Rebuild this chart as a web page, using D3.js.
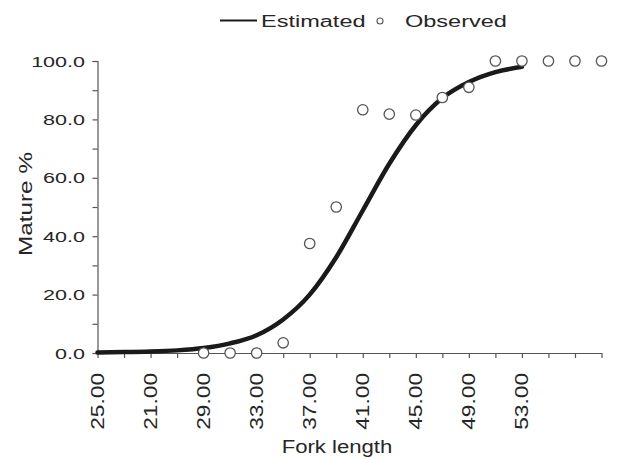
<!DOCTYPE html>
<html>
<head>
<meta charset="utf-8">
<script src="https://cdn.jsdelivr.net/npm/d3@7"></script>
<style>
  html, body { margin: 0; padding: 0; background: #fff; }
  svg { display: block; }
  text { font-family: "Liberation Sans", Arial, sans-serif; fill: #262626; }
</style>
</head>
<body>
<div id="chart"></div>
<script>
// estimated maturity ogive, every 2 cm
const estLength = [21, 23, 25, 27, 29, 31, 33, 35, 37, 39, 41, 43, 45, 47, 49, 51, 53]
const estMature = [0.2, 0.3, 0.5, 0.9, 1.7, 3.3, 6.1, 11.5, 20.0, 32.8, 48.8, 64.8, 78.0, 87.3, 92.8, 96.2, 98.0]

// observed proportion mature
const obsLength = [29, 31, 33, 35, 37, 39, 41, 43, 45, 47, 49, 51, 53, 55, 57, 59]
const obsMature = [0, 0, 0, 3.5, 37.5, 50.0, 83.3, 81.8, 81.5, 87.5, 91.0, 100, 100, 100, 100, 100]

// x tick labels exactly as printed (first two are swapped in the original)
const xTickValues = [21, 25, 29, 33, 37, 41, 45, 49, 53]
const xTickLabels = ["25.00", "21.00", "29.00", "33.00", "37.00", "41.00", "45.00", "49.00", "53.00"]
const yTickValues = [0, 20, 40, 60, 80, 100]

const width = 623
const height = 458
const marginLeft = 97.5     // y axis position
const marginRight = 21.5
const marginTop = 61
const marginBottom = 105    // x axis sits at y = 353

const svg = d3.select("#chart")
    .append("svg")
    .attr("width", width)
    .attr("height", height)
    .attr("viewBox", [0, 0, width, height])

const x = d3.scaleLinear([21, 59], [marginLeft, width - marginRight])
const y = d3.scaleLinear([0, 100], [height - marginBottom, marginTop])

// the font in the picture is a wide grotesque, so glyphs get stretched
const stretchText = (g, tx, ty, rot, sx, size, anchor, str, dy) => {
    g.append("text")
        .attr("transform", `translate(${tx},${ty}) rotate(${rot}) scale(${sx},1)`)
        .attr("font-size", size)
        .attr("text-anchor", anchor)
        .attr("dy", dy)
        .text(str)
}

// y axis
svg.append("g")
    .attr("transform", `translate(${marginLeft},0)`)
    .call(d3.axisLeft(y).tickValues(d3.range(0, 101, 10)).tickSize(5).tickFormat(""))
    .call(g => g.selectAll("path, line").attr("stroke", "#555").attr("stroke-width", 1.2))

const yLabels = svg.append("g")
yTickValues.forEach(v => stretchText(yLabels, 85, y(v), 0, 1.39, 15.5, "end", d3.format(".1f")(v), "0.36em"))

// x axis
svg.append("g")
    .attr("transform", `translate(0,${height - marginBottom})`)
    .call(d3.axisBottom(x).tickValues(d3.range(21, 60, 2)).tickSize(5).tickFormat("").tickSizeOuter(0))
    .call(g => g.selectAll("path, line").attr("stroke", "#555").attr("stroke-width", 1.2))

const xLabels = svg.append("g")
xTickValues.forEach((v, i) => stretchText(xLabels, x(v), 373, -90, 1.26, 18, "end", xTickLabels[i], "0.36em"))

// axis titles
stretchText(svg, 337, 453, 0, 1.23, 18, "middle", "Fork length", 0)
stretchText(svg, 32, 204, -90, 1.35, 18, "middle", "Mature %", 0)

// estimated curve
const line = d3.line()
    .x((d, i) => x(estLength[i]))
    .y(d => y(d))
    .curve(d3.curveMonotoneX)

svg.append("path")
    .datum(estMature)
    .attr("fill", "none")
    .attr("stroke", "#1a1a1a")
    .attr("stroke-width", 4.5)
    .attr("stroke-linecap", "round")
    .attr("d", line)

// observed points
svg.append("g")
    .selectAll("circle")
    .data(obsMature)
    .join("circle")
    .attr("cx", (d, i) => x(obsLength[i]))
    .attr("cy", d => y(d))
    .attr("r", 5.2)
    .attr("fill", "#fff")
    .attr("stroke", "#555")
    .attr("stroke-width", 1.3)

// legend
const legend = svg.append("g")
legend.append("line")
    .attr("x1", 220).attr("x2", 257)
    .attr("y1", 20.5).attr("y2", 20.5)
    .attr("stroke", "#1a1a1a")
    .attr("stroke-width", 2.2)
stretchText(legend, 261, 26.7, 0, 1.47, 16, "start", "Estimated", 0)
legend.append("circle")
    .attr("cx", 380).attr("cy", 21)
    .attr("r", 3)
    .attr("fill", "#fff")
    .attr("stroke", "#555")
    .attr("stroke-width", 1.1)
stretchText(legend, 405, 26.7, 0, 1.47, 16, "start", "Observed", 0)
</script>
</body>
</html>
